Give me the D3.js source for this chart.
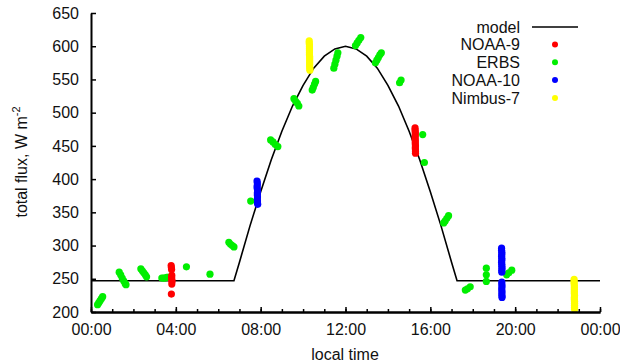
<!DOCTYPE html>
<html>
<head>
<meta charset="utf-8">
<script src="https://cdn.jsdelivr.net/npm/d3@7"></script>
<style>
  body { margin: 0; background: #fff; }
  svg { display: block; font-family: "Liberation Sans Narrow", "Arial Narrow", "Liberation Sans", sans-serif; }
  .axis text { font-size: 16px; fill: #111; }
  .axis .domain { stroke: #000; stroke-width: 2; }
  .axis line { stroke: #000; stroke-width: 1.5; }
</style>
</head>
<body>
<svg></svg>
<script>
// model curve (hour, W m-2)
let modelT = [0, 6.74, 7, 7.5, 8, 8.5, 9, 9.5, 10, 10.5, 11, 11.5, 12, 12.5, 13, 13.5, 14, 14.5, 15, 15.5, 16, 16.5, 17, 17.26, 24];
let modelV = [247, 247, 275, 330, 381, 429, 472, 510, 541, 567, 585, 596, 600, 596, 585, 567, 541, 510, 472, 429, 381, 330, 275, 247, 247];

// satellite measurements [hour, W m-2]
let noaa9 = [
    [3.78, 270], [3.79, 267], [3.8, 264], [3.81, 255], [3.8, 252], [3.81, 249], [3.82, 246], [3.81, 242], [3.79, 227],
    [15.28, 477], [15.28, 474], [15.29, 471], [15.29, 468], [15.29, 465], [15.28, 462], [15.29, 459], [15.29, 456],
    [15.29, 453], [15.3, 450], [15.29, 447], [15.3, 444], [15.3, 441], [15.3, 439]
];
let erbs = [
    [0.31, 211], [0.37, 214], [0.43, 217], [0.49, 220], [0.55, 223],
    [1.33, 260], [1.4, 256], [1.47, 251], [1.54, 247], [1.61, 243], [1.65, 241],
    [2.35, 265], [2.42, 262], [2.49, 259], [2.56, 256], [2.62, 253],
    [3.34, 251], [3.42, 251], [3.5, 251], [3.58, 252], [3.61, 252],
    [4.5, 268], [5.61, 257],
    [6.5, 305], [6.58, 302], [6.66, 300], [6.74, 298],
    [7.53, 367],
    [8.47, 459], [8.58, 456], [8.69, 452], [8.81, 449],
    [9.57, 521], [9.65, 517], [9.73, 514], [9.8, 510],
    [10.43, 534], [10.48, 538], [10.54, 543], [10.59, 547],
    [11.45, 567], [11.5, 573], [11.55, 579], [11.6, 585], [11.64, 590],
    [12.47, 601], [12.55, 605], [12.63, 609], [12.72, 613],
    [13.41, 575], [13.48, 579], [13.55, 583], [13.62, 587], [13.69, 590],
    [14.55, 545], [14.62, 549],
    [15.64, 467], [15.72, 425],
    [16.63, 334], [16.7, 337], [16.78, 341], [16.86, 345],
    [17.65, 233], [17.75, 235], [17.88, 238],
    [18.64, 266], [18.64, 256], [18.64, 246],
    [19.6, 256], [19.7, 259], [19.84, 263]
];
let noaa10 = [
    [7.83, 397], [7.84, 394], [7.84, 391], [7.83, 388], [7.84, 385], [7.85, 382], [7.84, 379], [7.84, 376],
    [7.85, 373], [7.84, 370], [7.85, 367], [7.85, 364], [7.86, 362],
    [19.36, 296], [19.36, 293], [19.37, 290], [19.37, 287], [19.36, 284], [19.37, 281], [19.37, 278], [19.36, 275],
    [19.37, 272], [19.37, 269], [19.38, 266], [19.37, 263], [19.37, 260],
    [19.37, 245], [19.37, 242], [19.38, 239], [19.37, 236], [19.37, 233], [19.38, 230], [19.37, 227], [19.38, 224], [19.38, 222]
];
let nimbus7 = [
    [10.29, 608], [10.29, 605], [10.3, 602], [10.3, 599], [10.3, 596], [10.3, 593], [10.3, 590], [10.3, 587],
    [10.31, 584], [10.31, 581], [10.31, 578], [10.31, 575], [10.31, 572], [10.31, 569], [10.32, 566], [10.32, 564],
    [22.78, 249], [22.78, 246], [22.78, 243], [22.79, 240], [22.79, 237], [22.79, 234], [22.79, 231], [22.79, 228],
    [22.8, 225], [22.79, 222], [22.79, 219], [22.8, 216], [22.8, 213], [22.8, 210], [22.8, 207], [22.8, 204]
];

let seriesNames = ["NOAA-9", "ERBS", "NOAA-10", "Nimbus-7"];
let seriesColors = ["#ff0000", "#00ee00", "#0000ff", "#ffff00"];
let seriesData = [noaa9, erbs, noaa10, nimbus7];
let drawOrder = [1, 0, 2, 3];

let yTicks = [200, 250, 300, 350, 400, 450, 500, 550, 600, 650];
let xTicks = [0, 4, 8, 12, 16, 20, 24];
let xTickLabels = ["00:00", "04:00", "08:00", "12:00", "16:00", "20:00", "00:00"];

let width = 620;
let height = 363;
let svg = d3.select("svg")
            .attr("width", width)
            .attr("height", height);

let x = d3.scaleLinear().domain([0, 24]).range([91, 600]);
let y = d3.scaleLinear().domain([200, 650]).range([312, 13]);

// model line
let line = d3.line()
    .x((d, i) => x(modelT[i]))
    .y((d, i) => y(modelV[i]));

svg.append("path")
    .datum(modelV)
    .attr("d", line)
    .attr("fill", "none")
    .attr("stroke", "#000")
    .attr("stroke-width", 1.6);

// points
drawOrder.forEach(k => {
    svg.append("g")
        .selectAll("circle")
        .data(seriesData[k])
        .enter()
        .append("circle")
        .attr("cx", d => x(d[0]))
        .attr("cy", d => y(d[1]))
        .attr("r", 3.6)
        .attr("fill", seriesColors[k]);
});

// axes
svg.append("g")
    .attr("class", "axis")
    .attr("transform", "translate(0," + y(200) + ")")
    .call(d3.axisBottom(x).tickValues(d3.range(0, 25)).tickSize(-3).tickSizeOuter(0).tickFormat(""));

svg.append("g")
    .attr("class", "axis")
    .attr("transform", "translate(0," + y(200) + ")")
    .call(d3.axisBottom(x)
            .tickValues(xTicks)
            .tickSize(-5)
            .tickSizeOuter(0)
            .tickPadding(12)
            .tickFormat((d, i) => xTickLabels[i]));

svg.append("g")
    .attr("class", "axis")
    .attr("transform", "translate(" + x(0) + ",0)")
    .call(d3.axisLeft(y)
            .tickValues(yTicks)
            .tickSize(-5)
            .tickSizeOuter(0)
            .tickPadding(12));

svg.selectAll(".axis .domain").attr("stroke-width", 2);

// axis titles
svg.append("text")
    .attr("x", 345)
    .attr("y", 360)
    .attr("text-anchor", "middle")
    .attr("font-size", 16)
    .attr("fill", "#111")
    .text("local time");

let ylab = svg.append("text")
    .attr("transform", "translate(27,162) rotate(-90)")
    .attr("text-anchor", "middle")
    .attr("font-size", 16)
    .attr("fill", "#111");
ylab.append("tspan").text("total flux, W m");
ylab.append("tspan").attr("dy", -7).attr("font-size", 11).text("-2");

// legend
let legend = svg.append("g");
legend.append("text")
    .attr("x", 520)
    .attr("y", 27)
    .attr("dy", "0.35em")
    .attr("text-anchor", "end")
    .attr("font-size", 16)
    .attr("fill", "#111")
    .text("model");
legend.append("line")
    .attr("x1", 532).attr("x2", 578)
    .attr("y1", 27).attr("y2", 27)
    .attr("stroke", "#000")
    .attr("stroke-width", 1.6);

seriesNames.forEach((name, i) => {
    let ly = 44.5 + i * 17.8;
    legend.append("text")
        .attr("x", 520)
        .attr("y", ly)
        .attr("dy", "0.35em")
        .attr("text-anchor", "end")
        .attr("font-size", 16)
        .attr("fill", "#111")
        .text(name);
    legend.append("circle")
        .attr("cx", 555)
        .attr("cy", ly)
        .attr("r", 3)
        .attr("fill", seriesColors[i]);
});
</script>
</body>
</html>
